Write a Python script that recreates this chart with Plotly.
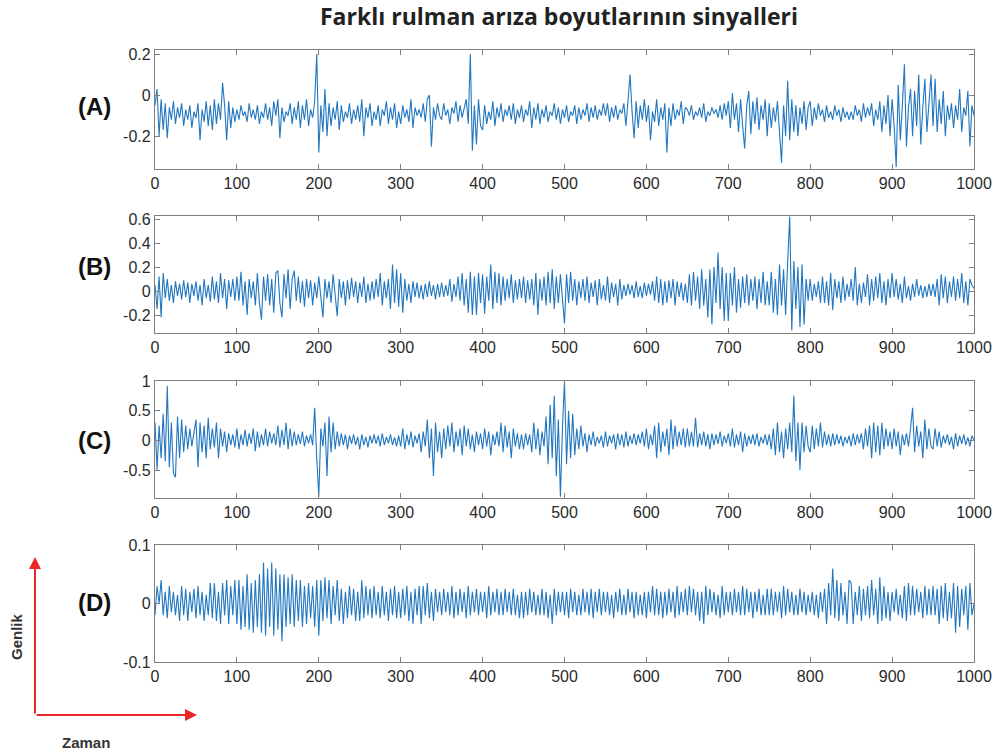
import plotly.graph_objects as go

# ---------------- data (every 2.5 samples) ----------------
sample_step = 2.5
n_samples = 401
sample_idx = [i * sample_step for i in range(n_samples)]

sig_a = [
    -0.05, 0.03, -0.2, -0.02, -0.17, -0.04, -0.21, -0.06, -0.12, -0.03,
    -0.14, -0.06, -0.11, -0.04, -0.15, -0.07, -0.12, -0.05, -0.16, -0.08,
    -0.11, -0.04, -0.22, -0.07, -0.13, -0.03, -0.15, -0.05, -0.17, -0.02,
    -0.14, -0.04, -0.12, 0.06, -0.05, -0.22, -0.03, -0.16, -0.06, -0.13,
    -0.07, -0.12, -0.05, -0.1, -0.08, -0.13, -0.04, -0.11, -0.07, -0.12,
    -0.05, -0.14, -0.08, -0.11, -0.04, -0.12, -0.06, -0.15, -0.03, -0.1,
    -0.02, -0.21, -0.06, -0.13, -0.08, -0.1, -0.04, -0.14, -0.06, -0.12,
    -0.03, -0.16, -0.05, -0.12, -0.02, -0.15, -0.07, -0.11, -0.03, 0.2,
    -0.28, -0.05, -0.18, 0.03, -0.2, -0.04, -0.15, -0.06, -0.12, -0.03,
    -0.17, -0.05, -0.13, -0.08, -0.11, -0.04, -0.14, -0.07, -0.12, -0.05,
    -0.13, -0.02, -0.2, -0.06, -0.11, -0.04, -0.15, -0.08, -0.12, -0.05,
    -0.15, -0.07, -0.1, -0.03, -0.14, -0.06, -0.12, -0.04, -0.16, -0.08,
    -0.14, -0.05, -0.11, -0.07, -0.13, -0.02, -0.16, -0.06, -0.1, -0.07,
    -0.11, -0.04, -0.13, -0.02, 0.0, -0.25, -0.06, -0.12, -0.04, -0.1,
    -0.12, -0.04, -0.1, -0.07, -0.14, -0.06, -0.09, -0.03, -0.13, -0.05,
    -0.11, -0.06, -0.02, -0.14, 0.2, -0.27, -0.05, -0.24, -0.02, -0.15,
    -0.17, -0.05, -0.14, -0.08, -0.12, -0.03, -0.15, -0.06, -0.11, -0.04,
    -0.13, -0.07, -0.1, -0.05, -0.12, -0.04, -0.14, -0.07, -0.11, -0.05,
    -0.13, -0.07, -0.1, -0.03, -0.16, -0.06, -0.12, -0.04, -0.14, -0.07,
    -0.11, -0.05, -0.13, -0.08, -0.1, -0.04, -0.12, -0.06, -0.14, -0.07,
    -0.11, -0.05, -0.13, -0.08, -0.1, -0.05, -0.14, -0.06, -0.12, -0.07,
    -0.1, -0.04, -0.13, -0.06, -0.11, -0.05, -0.12, -0.07, -0.1, -0.04,
    -0.1, -0.04, -0.13, -0.06, -0.11, -0.05, -0.12, -0.07, -0.09, -0.04,
    -0.15, -0.03, 0.1, -0.08, -0.21, -0.03, -0.16, -0.05, -0.12, -0.02,
    -0.13, -0.05, -0.22, -0.08, -0.13, -0.02, -0.15, -0.06, -0.12, -0.04,
    -0.28, -0.06, -0.15, -0.04, -0.12, -0.07, -0.1, -0.03, -0.14, -0.06,
    -0.07, -0.1, -0.05, -0.12, -0.08, -0.1, -0.06, -0.11, -0.04, -0.13,
    -0.08, -0.1, -0.06, -0.09, -0.07, -0.11, -0.05, -0.12, -0.04, -0.1,
    -0.03, -0.16, 0.01, -0.12, -0.04, -0.18, -0.02, -0.15, -0.26, -0.05,
    0.02, -0.19, -0.03, -0.14, -0.01, -0.17, -0.05, -0.12, -0.02, -0.2,
    -0.04, -0.16, -0.06, -0.13, -0.03, -0.18, -0.33, -0.05, -0.2, 0.07,
    -0.22, -0.02, -0.18, -0.05, -0.2, -0.06, -0.14, -0.03, -0.17, -0.06,
    -0.03, -0.15, -0.06, -0.12, -0.04, -0.1, -0.07, -0.13, -0.05, -0.11,
    -0.08, -0.12, -0.05, -0.1, -0.07, -0.13, -0.06, -0.11, -0.08, -0.12,
    -0.08, -0.12, -0.05, -0.1, -0.07, -0.13, -0.04, -0.11, -0.06, -0.1,
    -0.04, -0.15, -0.07, -0.12, -0.03, -0.18, -0.05, -0.14, 0.0, -0.2,
    -0.02, -0.15, -0.35, 0.05, -0.22, -0.05, 0.15, -0.25, -0.06, 0.03,
    -0.2, 0.02, -0.15, 0.1, -0.24, -0.06, 0.08, -0.18, -0.04, 0.1,
    -0.15, 0.08, -0.18, -0.02, -0.14, 0.02, -0.2, -0.05, -0.12, -0.04,
    -0.16, -0.05, -0.12, 0.03, -0.18, -0.06, -0.1, 0.02, -0.25, -0.05,
    -0.1,
]

sig_b = [
    0.05, -0.15, 0.12, -0.22, 0.15, -0.06, 0.1, -0.08, 0.05, -0.1,
    0.08, -0.04, 0.06, -0.07, 0.09, -0.05, 0.07, -0.1, 0.06, -0.04,
    0.08, -0.08, 0.05, -0.12, 0.1, -0.06, 0.05, -0.09, 0.12, -0.07,
    0.08, -0.1, 0.15, -0.06, 0.1, -0.15, 0.09, -0.05, 0.1, -0.08,
    0.12, -0.08, 0.16, -0.12, 0.08, -0.2, 0.1, -0.06, 0.08, -0.12,
    0.15, -0.1, -0.24, 0.12, -0.08, 0.14, -0.12, 0.1, -0.18, 0.15,
    0.17, -0.1, -0.22, 0.14, -0.06, 0.18, -0.15, 0.1, 0.17, -0.08,
    0.12, -0.1, 0.08, -0.13, 0.1, -0.06, 0.09, -0.12, 0.07, -0.06,
    0.12, -0.08, -0.22, 0.1, -0.06, 0.08, -0.1, 0.14, -0.05, -0.21,
    0.1, -0.06, 0.08, -0.12, 0.09, -0.07, 0.11, -0.05, 0.08, -0.1,
    0.07, -0.05, 0.12, -0.1, 0.06, -0.08, 0.08, -0.07, 0.1, -0.05,
    0.15, -0.12, 0.08, -0.06, 0.1, -0.15, 0.22, -0.1, 0.18, -0.13,
    0.15, -0.18, 0.1, -0.08, 0.06, -0.1, 0.08, -0.05, 0.07, -0.06,
    0.05, -0.07, 0.06, -0.05, 0.08, -0.04, 0.05, -0.07, 0.06, -0.05,
    0.07, -0.05, 0.05, -0.04, 0.1, -0.09, 0.06, -0.05, 0.12, -0.08,
    0.15, -0.12, 0.1, -0.18, 0.16, -0.2, 0.12, -0.2, 0.15, -0.1,
    0.14, -0.19, 0.12, -0.08, 0.22, -0.15, 0.16, -0.1, 0.15, -0.12,
    0.12, -0.08, 0.1, -0.06, 0.14, -0.1, 0.09, -0.07, 0.1, -0.06,
    0.12, -0.1, 0.09, -0.07, 0.1, -0.12, 0.15, -0.2, 0.1, -0.08,
    0.12, -0.12, 0.16, -0.1, 0.18, -0.15, 0.12, -0.1, 0.14, -0.08,
    -0.27, 0.14, -0.1, 0.16, -0.08, 0.1, -0.12, 0.08, -0.06, 0.1,
    -0.08, 0.12, -0.1, 0.07, -0.05, 0.09, -0.12, 0.1, -0.07, 0.05,
    -0.08, 0.12, -0.1, 0.07, -0.05, 0.06, -0.12, 0.1, -0.07, 0.05,
    -0.04, 0.06, -0.03, 0.05, -0.06, 0.08, -0.05, 0.04, -0.06, 0.07,
    -0.04, 0.06, -0.03, 0.08, -0.08, 0.12, -0.1, 0.1, -0.12, 0.08,
    -0.1, 0.09, -0.06, 0.1, -0.12, 0.08, -0.05, 0.07, -0.08, 0.06,
    -0.1, 0.14, -0.12, 0.16, -0.08, 0.12, -0.15, 0.18, -0.12, 0.1,
    -0.22, 0.18, -0.28, 0.2, -0.1, 0.32, -0.15, 0.2, -0.25, 0.15,
    -0.25, 0.15, -0.12, 0.2, -0.18, 0.1, -0.14, 0.12, -0.1, 0.14,
    -0.12, 0.1, -0.08, 0.12, -0.15, 0.1, -0.1, 0.16, -0.12, 0.08,
    -0.12, 0.16, -0.18, 0.1, -0.2, 0.22, -0.12, 0.18, -0.2, 0.25,
    0.62, -0.33, 0.25, -0.15, 0.2, -0.3, 0.22, -0.28, 0.1, -0.08,
    0.1, -0.08, 0.06, -0.05, 0.08, -0.1, 0.12, -0.1, 0.08, -0.12,
    0.15, -0.16, 0.1, -0.06, 0.08, -0.1, 0.12, -0.08, 0.06, -0.05,
    0.1, -0.08, 0.2, -0.12, 0.06, -0.1, 0.07, -0.05, 0.14, -0.12,
    0.1, -0.08, 0.12, -0.06, 0.15, -0.1, 0.08, -0.12, 0.1, -0.06,
    0.15, -0.05, 0.1, -0.07, 0.06, -0.1, 0.12, -0.06, 0.04, -0.08,
    0.06, -0.05, 0.1, -0.04, 0.05, -0.06, 0.04, -0.05, 0.06, -0.04,
    0.06, -0.05, 0.1, -0.12, 0.14, -0.06, 0.12, -0.1, 0.08, -0.05,
    0.12, -0.08, 0.1, -0.06, 0.15, -0.1, 0.08, -0.12, 0.1, 0.05,
    0.02,
]

sig_c = [
    0.3, -0.5, 0.25, -0.3, 0.45, -0.35, 0.92, -0.45, 0.3, -0.55,
    -0.62, 0.4, -0.3, 0.35, -0.2, 0.25, -0.15, 0.2, -0.1, 0.15,
    0.35, -0.45, 0.3, -0.2, 0.25, -0.3, 0.38, -0.15, 0.2, -0.12,
    0.3, -0.3, 0.2, -0.1, 0.15, -0.2, 0.12, -0.08, 0.1, -0.12,
    0.2, -0.15, 0.1, -0.08, 0.18, -0.1, 0.12, -0.06, 0.2, -0.18,
    0.15, -0.12, 0.1, -0.08, 0.2, -0.1, 0.15, -0.05, 0.12, -0.08,
    0.25, -0.12, 0.18, -0.08, 0.3, -0.15, 0.2, -0.1, 0.15, -0.08,
    0.1, -0.06, 0.15, -0.1, 0.08, -0.05, 0.1, -0.08, 0.55, -0.3,
    -0.95, 0.2, -0.1, 0.3, -0.6, 0.4, -0.2, 0.3, -0.15, 0.15,
    -0.1, 0.12, -0.08, 0.1, -0.15, 0.08, -0.06, 0.1, -0.08, 0.06,
    -0.15, 0.1, -0.08, 0.06, -0.12, 0.08, -0.05, 0.1, -0.06, 0.08,
    -0.1, 0.12, -0.08, 0.06, -0.05, 0.1, -0.08, 0.05, -0.1, 0.08,
    -0.1, 0.2, -0.15, 0.1, -0.08, 0.15, -0.12, 0.08, -0.05, 0.12,
    -0.2, 0.15, -0.1, 0.35, -0.3, 0.2, -0.6, 0.3, -0.2, 0.15,
    -0.3, 0.2, -0.15, 0.25, -0.1, 0.3, -0.2, 0.15, -0.1, 0.2,
    -0.25, 0.25, -0.1, 0.2, -0.15, 0.1, -0.2, 0.15, -0.08, 0.12,
    -0.15, 0.2, -0.1, 0.15, -0.25, 0.1, -0.08, 0.15, -0.1, 0.3,
    -0.2, 0.25, -0.12, 0.15, -0.3, 0.2, -0.1, 0.12, -0.15, 0.1,
    -0.15, 0.12, -0.08, 0.1, -0.2, 0.3, -0.15, 0.2, -0.25, 0.15,
    -0.1, 0.4, -0.4, 0.6, -0.3, 0.75, -0.6, 0.35, -0.95, 0.2,
    1.0, -0.4, 0.5, -0.3, 0.45, -0.25, 0.2, -0.15, 0.25, -0.1,
    0.12, -0.2, 0.1, -0.08, 0.15, -0.1, 0.06, -0.05, 0.08, -0.12,
    0.15, -0.1, 0.08, -0.05, 0.1, -0.15, 0.12, -0.08, 0.1, -0.12,
    0.15, -0.1, 0.08, -0.06, 0.12, -0.08, 0.1, -0.05, 0.15, -0.1,
    0.2, -0.15, 0.1, -0.08, 0.25, -0.3, 0.3, -0.2, 0.15, -0.1,
    0.2, -0.25, 0.35, -0.15, 0.25, -0.1, 0.15, -0.08, 0.2, -0.12,
    0.2, -0.1, 0.15, -0.1, 0.38, -0.12, 0.12, -0.08, 0.15, -0.1,
    0.1, -0.15, 0.12, -0.08, 0.1, -0.06, 0.15, -0.1, 0.08, -0.05,
    0.12, -0.1, 0.2, -0.12, 0.1, -0.08, 0.15, -0.2, 0.12, -0.1,
    0.08, -0.06, 0.1, -0.08, 0.12, -0.1, 0.06, -0.05, 0.1, -0.08,
    0.1, -0.15, 0.2, -0.25, 0.3, -0.2, 0.15, -0.3, 0.2, -0.15,
    0.3, -0.2, 0.75, -0.35, 0.3, -0.5, 0.3, -0.2, 0.25, -0.1,
    -0.2, 0.25, -0.15, 0.2, -0.1, 0.3, -0.12, 0.15, -0.08, 0.1,
    -0.1, 0.12, -0.08, 0.1, -0.06, 0.08, -0.1, 0.06, -0.05, 0.08,
    -0.1, 0.12, -0.08, 0.1, -0.05, 0.12, -0.15, 0.2, -0.1, 0.25,
    -0.3, 0.3, -0.2, 0.25, -0.25, 0.3, -0.15, 0.2, -0.1, 0.15,
    -0.15, 0.2, -0.1, 0.15, -0.25, 0.1, -0.08, 0.12, -0.1, 0.2,
    0.55, -0.2, 0.25, -0.1, 0.15, -0.3, 0.35, -0.15, 0.2, -0.1,
    -0.15, 0.2, -0.1, 0.15, -0.12, 0.08, -0.05, 0.1, -0.08, 0.06,
    -0.15, 0.12, -0.1, 0.08, -0.06, 0.1, -0.08, 0.05, -0.1, 0.08,
    0.0,
]

sig_d = [
    -0.02, 0.03, 0.0, 0.04, -0.02, 0.02, -0.025, 0.03, -0.015, 0.02,
    -0.02, 0.015, -0.03, 0.03, -0.02, 0.025, -0.03, 0.02, -0.015, 0.025,
    -0.025, 0.03, -0.02, 0.02, -0.03, 0.015, -0.02, 0.035, -0.025, 0.035,
    -0.03, 0.02, -0.035, 0.035, -0.02, 0.04, -0.035, 0.03, -0.02, 0.04,
    -0.035, 0.04, -0.045, 0.03, -0.04, 0.05, -0.045, 0.035, -0.05, 0.04,
    -0.04, 0.05, -0.05, 0.07, -0.055, 0.06, -0.04, 0.07, -0.055, 0.06,
    -0.045, 0.05, -0.065, 0.05, -0.04, 0.045, -0.035, 0.05, -0.04, 0.04,
    -0.03, 0.04, -0.04, 0.03, -0.035, 0.035, -0.025, 0.03, -0.04, 0.04,
    -0.055, 0.04, -0.03, 0.045, -0.025, 0.04, -0.035, 0.03, -0.02, 0.04,
    -0.03, 0.025, -0.035, 0.02, -0.025, 0.03, -0.02, 0.025, -0.03, 0.02,
    -0.03, 0.04, -0.025, 0.03, -0.02, 0.025, -0.025, 0.03, -0.02, 0.02,
    -0.025, 0.03, -0.02, 0.02, -0.03, 0.025, -0.02, 0.03, -0.025, 0.02,
    -0.025, 0.025, -0.02, 0.03, -0.03, 0.02, -0.035, 0.025, -0.02, 0.03,
    -0.035, 0.03, -0.02, 0.035, -0.025, 0.02, -0.03, 0.025, -0.015, 0.02,
    -0.02, 0.025, -0.015, 0.02, -0.02, 0.03, -0.025, 0.02, -0.02, 0.025,
    -0.015, 0.02, -0.025, 0.03, -0.02, 0.02, -0.015, 0.025, -0.02, 0.02,
    -0.015, 0.02, -0.025, 0.03, -0.02, 0.02, -0.015, 0.025, -0.02, 0.02,
    -0.02, 0.025, -0.015, 0.02, -0.02, 0.025, -0.02, 0.015, -0.025, 0.02,
    -0.025, 0.02, -0.02, 0.025, -0.015, 0.02, -0.02, 0.015, -0.02, 0.025,
    -0.02, 0.02, -0.025, 0.015, -0.035, 0.025, -0.02, 0.02, -0.015, 0.02,
    -0.02, 0.02, -0.025, 0.025, -0.015, 0.02, -0.02, 0.015, -0.02, 0.025,
    -0.015, 0.02, -0.02, 0.025, -0.025, 0.02, -0.015, 0.025, -0.02, 0.02,
    -0.015, 0.02, -0.02, 0.015, -0.025, 0.02, -0.015, 0.025, -0.02, 0.015,
    -0.02, 0.025, -0.015, 0.02, -0.025, 0.02, -0.02, 0.015, -0.02, 0.02,
    -0.025, 0.02, -0.015, 0.03, -0.02, 0.025, -0.02, 0.02, -0.025, 0.02,
    -0.02, 0.025, -0.015, 0.02, -0.025, 0.03, -0.02, 0.02, -0.015, 0.025,
    -0.02, 0.03, -0.015, 0.025, -0.02, 0.02, -0.03, 0.02, -0.035, 0.03,
    -0.02, 0.025, -0.015, 0.02, -0.02, 0.015, -0.025, 0.03, -0.02, 0.02,
    -0.015, 0.02, -0.02, 0.025, -0.015, 0.02, -0.02, 0.03, -0.02, 0.025,
    -0.015, 0.02, -0.025, 0.02, -0.015, 0.025, -0.02, 0.015, -0.02, 0.025,
    -0.02, 0.025, -0.02, 0.02, -0.015, 0.02, -0.025, 0.03, -0.02, 0.025,
    -0.015, 0.02, -0.02, 0.015, -0.02, 0.025, -0.015, 0.02, -0.02, 0.015,
    -0.015, 0.02, -0.02, 0.015, -0.025, 0.02, -0.015, 0.025, -0.035, 0.035,
    -0.02, 0.06, -0.025, 0.04, -0.03, 0.035, -0.02, 0.02, -0.035, 0.04,
    0.035, -0.035, 0.02, -0.02, 0.03, -0.03, 0.025, -0.02, 0.03, -0.025,
    0.04, -0.02, 0.025, -0.035, 0.045, -0.03, 0.03, -0.025, 0.02, -0.03,
    0.02, -0.015, 0.025, -0.02, 0.015, -0.025, 0.03, -0.03, 0.035, -0.02,
    0.03, -0.02, 0.025, -0.015, 0.02, -0.025, 0.03, -0.02, 0.025, -0.02,
    0.03, -0.02, 0.025, -0.035, 0.03, -0.025, 0.035, -0.03, 0.02, -0.025,
    0.035, -0.05, 0.03, -0.04, 0.025, -0.02, 0.03, -0.045, 0.035, -0.02,
    0.0,
]

panel_labels = ["(A)", "(B)", "(C)", "(D)"]
x_tick_vals = [0, 100, 200, 300, 400, 500, 600, 700, 800, 900, 1000]
y_tick_vals = [
    [-0.2, 0, 0.2],
    [-0.2, 0, 0.2, 0.4, 0.6],
    [-0.5, 0, 0.5, 1],
    [-0.1, 0, 0.1],
]
y_tick_text = [
    ["-0.2", "0", "0.2"],
    ["-0.2", "0", "0.2", "0.4", "0.6"],
    ["-0.5", "0", "0.5", "1"],
    ["-0.1", "0", "0.1"],
]
y_ranges = [[-0.36, 0.22], [-0.35, 0.625], [-0.97, 1.0], [-0.1, 0.1]]
title_text = "Farklı rulman arıza boyutlarının sinyalleri"
y_arrow_label = "Genlik"
x_arrow_label = "Zaman"

# ---------------- layout geometry (pixels) ----------------
W, H = 996, 756
X0, X1 = 155, 974
panel_px = [(50, 169), (216, 333), (381, 498), (545, 662)]
label_px_y = [107, 266, 440, 602]

signals = [sig_a, sig_b, sig_c, sig_d]
LINE_COLOR = "#2277c0"
AX_COLOR = "#7f7f7f"
TICK_FONT = dict(family="Liberation Sans, Arial, sans-serif", size=16, color="#2a2a2a")

fig = go.Figure()
layout = dict(
    width=W, height=H,
    margin=dict(l=0, r=0, t=0, b=0, autoexpand=False),
    paper_bgcolor="white", plot_bgcolor="white",
    showlegend=False,
)

annotations = []
for i, sig in enumerate(signals):
    n = "" if i == 0 else str(i + 1)
    fig.add_trace(go.Scatter(
        x=sample_idx[:len(sig)], y=sig, mode="lines",
        line=dict(color=LINE_COLOR, width=1.1),
        xaxis="x" + n, yaxis="y" + n, hoverinfo="skip",
    ))
    top, bot = panel_px[i]
    layout["xaxis" + n] = dict(
        domain=[X0 / W, X1 / W], anchor="y" + n, automargin=False,
        range=[0, 1000], tickvals=x_tick_vals,
        ticks="inside", ticklen=5, tickcolor=AX_COLOR,
        showline=True, linecolor=AX_COLOR, linewidth=1.2, mirror="ticks",
        showgrid=False, zeroline=False, tickfont=TICK_FONT,
    )
    layout["yaxis" + n] = dict(
        domain=[1 - bot / H, 1 - top / H], anchor="x" + n, automargin=False,
        range=y_ranges[i], tickvals=y_tick_vals[i], ticktext=y_tick_text[i],
        ticks="inside", ticklen=5, tickcolor=AX_COLOR,
        showline=True, linecolor=AX_COLOR, linewidth=1.2, mirror="ticks",
        showgrid=False, zeroline=False, tickfont=TICK_FONT,
    )
    annotations.append(dict(
        text="<b>" + panel_labels[i] + "</b>", xref="paper", yref="paper",
        x=94 / W, y=1 - label_px_y[i] / H, showarrow=False,
        font=dict(family="Liberation Sans, Arial, sans-serif", size=24, color="#111111"),
        xanchor="center", yanchor="middle",
    ))

# title
annotations.append(dict(
    text="<b>" + title_text + "</b>", xref="paper", yref="paper",
    x=559 / W, y=1 - 16 / H, showarrow=False,
    font=dict(family="Open Sans, Liberation Sans, sans-serif", size=23, color="#222222"),
    xanchor="center", yanchor="middle",
))

# red axis arrows
RED = "#e8262a"
annotations.append(dict(
    text="", xref="paper", yref="paper", x=35 / W, y=1 - 557 / H,
    ax=0, ay=158, showarrow=True, arrowhead=2, arrowsize=1.2,
    arrowwidth=2, arrowcolor=RED,
))
annotations.append(dict(
    text="", xref="paper", yref="paper", x=197 / W, y=1 - 715 / H,
    ax=-162, ay=0, showarrow=True, arrowhead=2, arrowsize=1.2,
    arrowwidth=2, arrowcolor=RED,
))
annotations.append(dict(
    text="<b>" + y_arrow_label + "</b>", xref="paper", yref="paper",
    x=16 / W, y=1 - 636 / H, showarrow=False, textangle=-90,
    font=dict(family="Liberation Sans, Arial, sans-serif", size=15, color="#333333"),
    xanchor="center", yanchor="middle",
))
annotations.append(dict(
    text="<b>" + x_arrow_label + "</b>", xref="paper", yref="paper",
    x=86 / W, y=1 - 742 / H, showarrow=False,
    font=dict(family="Liberation Sans, Arial, sans-serif", size=15, color="#333333"),
    xanchor="center", yanchor="middle",
))

layout["annotations"] = annotations
fig.update_layout(**layout)
fig.write_html("out.html")
